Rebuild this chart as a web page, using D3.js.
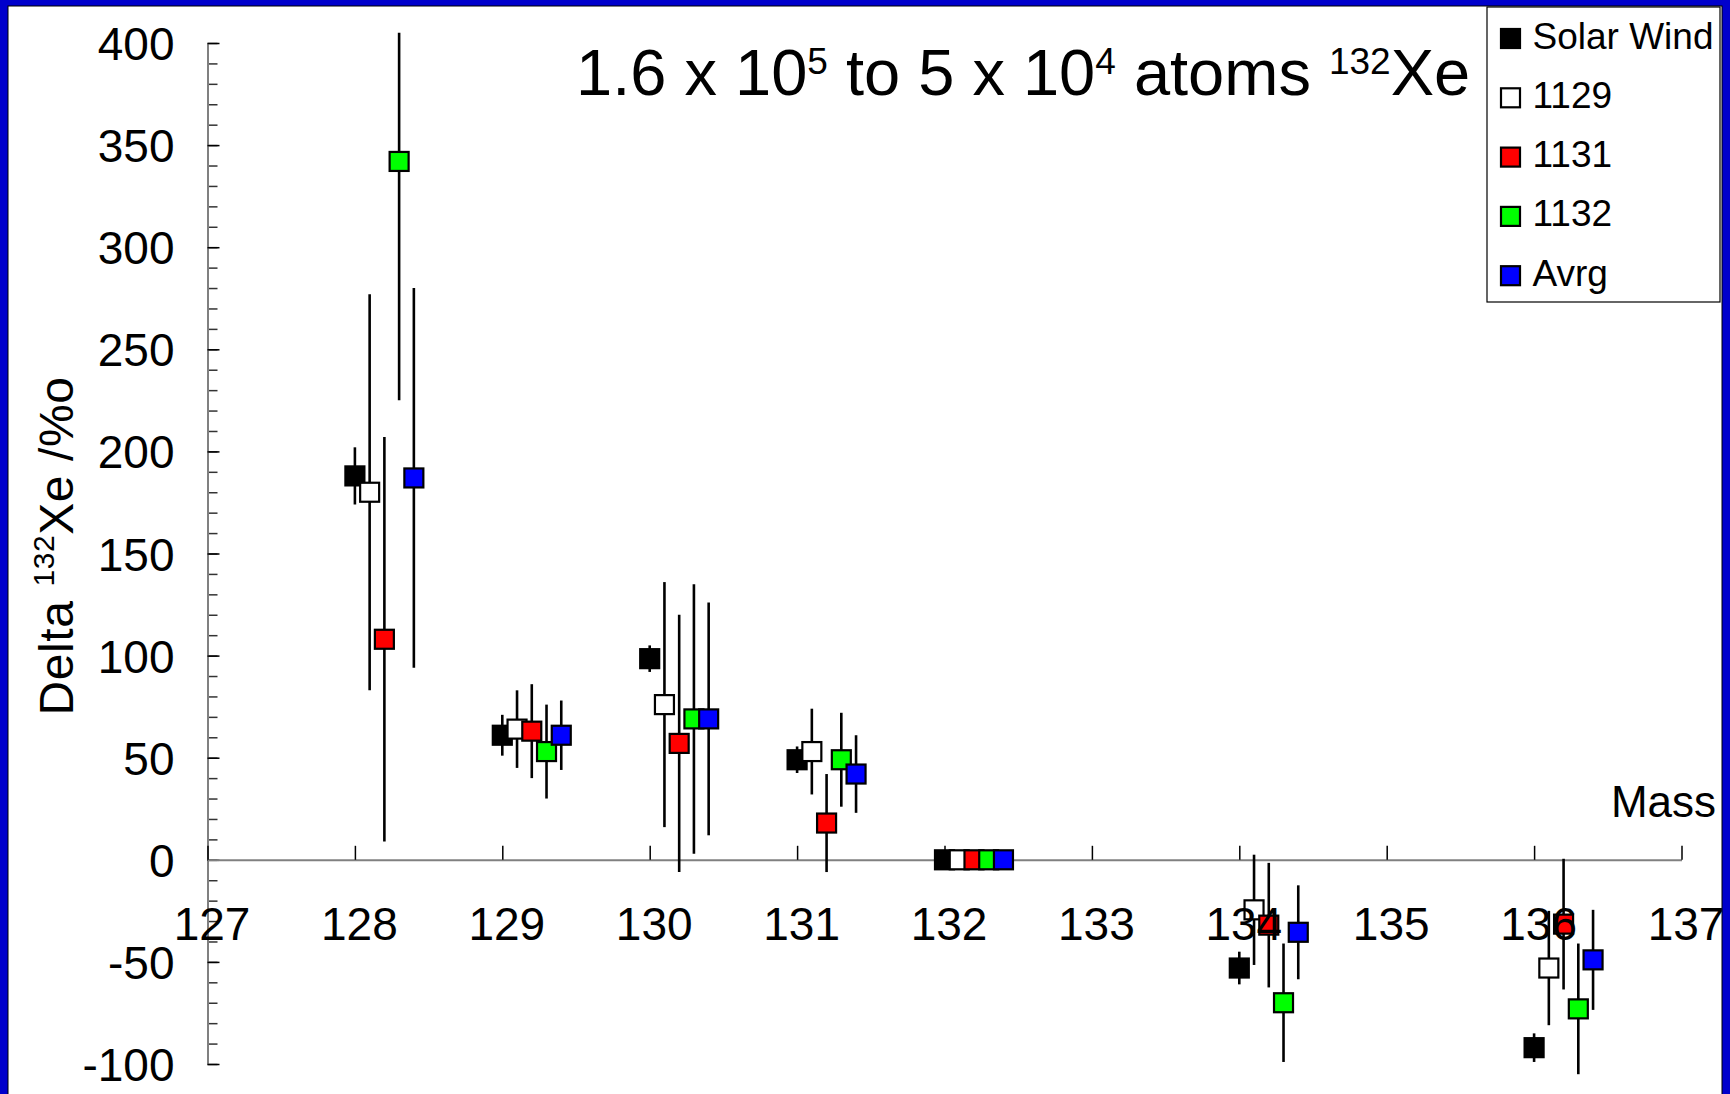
<!DOCTYPE html>
<html>
<head>
<meta charset="utf-8">
<script src="https://cdn.jsdelivr.net/npm/d3@7"></script>
<style>
  html, body { margin: 0; padding: 0; background: #0000cc; }
  svg { display: block; }
  text { font-family: "Liberation Sans", Arial, sans-serif; fill: #000; }
</style>
</head>
<body>
<svg id="chart" width="1730" height="1094"></svg>
<script>
// Xenon isotope deltas relative to 132Xe, per mass, for each sample
const masses = [128, 129, 130, 131, 132, 134, 136];
const seriesNames = ["Solar Wind", "1129", "1131", "1132", "Avrg"];
const seriesColors = ["#000000", "#ffffff", "#ff0000", "#00ff00", "#0000ff"];

const solarWind    = [188, 61, 98.5, 49, 0, -53, -92];
const solarWindErr = [14, 10, 6.5, 6.5, 0, 8, 7];
const s1129        = [180, 64, 76, 53, 0, -24.5, -53];
const s1129Err     = [97, 19, 60, 21, 0, 27, 28];
const s1131        = [108, 63, 57, 18, 0, -32, -31.5];
const s1131Err     = [99, 23, 63, 24, 0, 30.5, 32];
const s1132        = [342, 53, 69, 49, 0, -70, -73];
const s1132Err     = [117, 23, 66, 23, 0, 29, 32];
const avrg         = [187, 61, 69, 42, 0, -35.5, -49];
const avrgErr      = [93, 17, 57, 19, 0, 23, 24.5];

const xTickValues = [127, 128, 129, 130, 131, 132, 133, 134, 135, 136, 137];
const yTickValues = [-100, -50, 0, 50, 100, 150, 200, 250, 300, 350, 400];

const values = [solarWind, s1129, s1131, s1132, avrg];
const errors = [solarWindErr, s1129Err, s1131Err, s1132Err, avrgErr];

// plain hyphen-minus for negative tick labels
const plainNumber = d => String(d);

const svg = d3.select("#chart");

// white page inside the blue frame
svg.append("rect")
  .attr("x", 8).attr("y", 6).attr("width", 1714).attr("height", 1100)
  .attr("fill", "#fff").attr("stroke", "#000").attr("stroke-width", 1);

const x = d3.scaleLinear().domain([127, 137]).range([207.5, 1681.5]);
const y = d3.scaleLinear().domain([-100, 400]).range([1064, 43]);

// clip region for the marks (top of plot sits slightly above 400)
svg.append("clipPath").attr("id", "plotClip")
  .append("rect").attr("x", 0).attr("y", y(405)).attr("width", 1730).attr("height", 1094);

// ---- y axis: minor ticks every 10, major every 50 ----
const yMinor = svg.append("g").attr("transform", `translate(${x(127)},0)`)
  .call(d3.axisLeft(y).tickValues(d3.range(-100, 401, 10)).tickSizeInner(-10).tickSizeOuter(0).tickFormat(""));
yMinor.select(".domain").remove();
yMinor.selectAll(".tick line").attr("stroke", "#333").attr("stroke-width", 1.5);

const yAxis = svg.append("g").attr("transform", `translate(${x(127)},0)`)
  .call(d3.axisLeft(y).tickValues(yTickValues).tickSizeInner(-12).tickSizeOuter(0).tickPadding(33).tickFormat(plainNumber));
yAxis.select(".domain").attr("stroke", "#808080").attr("stroke-width", 2);
yAxis.selectAll(".tick line").attr("stroke", "#000").attr("stroke-width", 1.5);
yAxis.selectAll(".tick text")
  .style("font-family", "'Liberation Sans', Arial, sans-serif")
  .style("font-size", "46px").attr("fill", "#000").attr("dy", "0.36em");

// ---- x axis line and ticks (labels drawn later, above the marks) ----
const xAxis = svg.append("g").attr("transform", `translate(0,${y(0)})`)
  .call(d3.axisBottom(x).tickValues(xTickValues).tickSizeInner(-14).tickSizeOuter(0).tickFormat(""));
xAxis.select(".domain").attr("stroke", "#808080").attr("stroke-width", 2);
xAxis.selectAll(".tick line").attr("stroke", "#000").attr("stroke-width", 1.5);

// ---- data: error bars then square markers, one series at a time ----
const marks = svg.append("g").attr("clip-path", "url(#plotClip)");
const offsetStep = 0.1;
const markSize = 19;

seriesNames.forEach((name, si) => {
  const data = masses.map((m, i) => ({ m: m + si * offsetStep, v: values[si][i], e: errors[si][i] }));
  const g = marks.append("g").attr("class", "series-" + si);
  g.selectAll("line.err").data(data.filter(d => d.e > 0)).join("line")
    .attr("class", "err")
    .attr("x1", d => x(d.m)).attr("x2", d => x(d.m))
    .attr("y1", d => y(d.v + d.e)).attr("y2", d => y(d.v - d.e))
    .attr("stroke", "#000").attr("stroke-width", 2.6);
  g.selectAll("rect.pt").data(data).join("rect")
    .attr("class", "pt")
    .attr("x", d => x(d.m) - markSize / 2).attr("y", d => y(d.v) - markSize / 2)
    .attr("width", markSize).attr("height", markSize)
    .attr("fill", seriesColors[si])
    .attr("stroke", "#000").attr("stroke-width", 2.2);
});

// ---- x tick labels on top ----
const xLabels = svg.append("g").attr("transform", `translate(4,${y(0)})`)
  .call(d3.axisBottom(x).tickValues(xTickValues).tickSize(0).tickPadding(48).tickFormat(plainNumber));
xLabels.select(".domain").remove();
xLabels.selectAll(".tick text")
  .style("font-family", "'Liberation Sans', Arial, sans-serif")
  .style("font-size", "46px").attr("fill", "#000");

// axis titles
svg.append("text").attr("x", 1716).attr("y", 817).attr("text-anchor", "end")
  .style("font-size", "44px").text("Mass");

const yTitle = svg.append("text")
  .attr("transform", "translate(73,546) rotate(-90)")
  .attr("text-anchor", "middle").style("font-size", "48px")
  .style("letter-spacing", "0.6px");
yTitle.append("tspan").text("Delta ");
yTitle.append("tspan").attr("dy", -19).style("font-size", "30px").text("132");
yTitle.append("tspan").attr("dy", 19).text("Xe /%o");

// chart title
const title = svg.append("text").attr("x", 576).attr("y", 95).style("font-size", "65px");
title.append("tspan").text("1.6 x 10");
title.append("tspan").attr("dy", -21).style("font-size", "37px").text("5");
title.append("tspan").attr("dy", 21).text(" to 5 x 10");
title.append("tspan").attr("dy", -21).style("font-size", "37px").text("4");
title.append("tspan").attr("dy", 21).text(" atoms ");
title.append("tspan").attr("dy", -21).style("font-size", "37px").text("132");
title.append("tspan").attr("dy", 21).text("Xe");

// ---- legend ----
const legend = svg.append("g");
legend.append("rect").attr("x", 1487).attr("y", 7).attr("width", 233).attr("height", 295)
  .attr("fill", "#fff").attr("stroke", "#000").attr("stroke-width", 1.2);
const legendRows = legend.selectAll("g.row").data(seriesNames).join("g")
  .attr("class", "row")
  .attr("transform", (d, i) => `translate(1510.5,${38.5 + i * 59.3})`);
legendRows.append("rect")
  .attr("x", -markSize / 2).attr("y", -markSize / 2).attr("width", markSize).attr("height", markSize)
  .attr("fill", (d, i) => seriesColors[i]).attr("stroke", "#000").attr("stroke-width", 2.2);
legendRows.append("text").attr("x", 22).attr("y", 10)
  .style("font-size", "37px").text(d => d);
</script>
</body>
</html>
